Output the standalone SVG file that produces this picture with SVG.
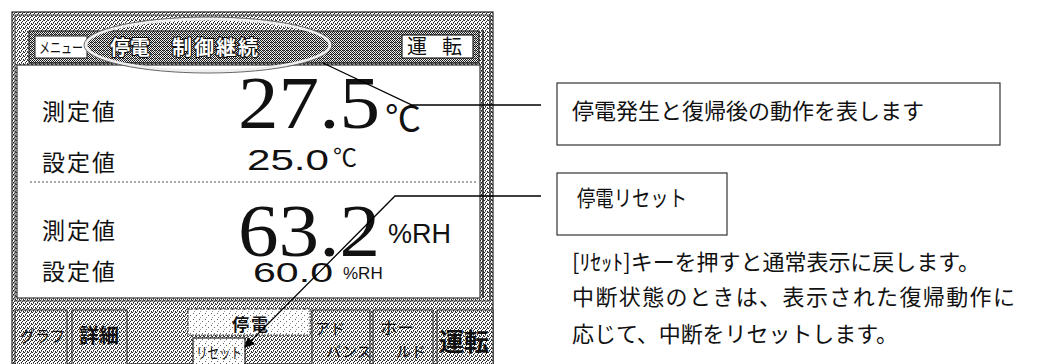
<svg xmlns="http://www.w3.org/2000/svg" width="1038" height="364" viewBox="0 0 1038 364">
<defs>
<pattern id="stL" width="4" height="4" patternUnits="userSpaceOnUse">
<rect width="4" height="4" fill="#fff"/>
<rect x="0" y="0" width="1" height="1" fill="#222"/><rect x="2" y="1" width="1" height="1" fill="#222"/><rect x="1" y="2" width="1" height="1" fill="#222"/><rect x="3" y="3" width="1" height="1" fill="#222"/><rect x="3" y="0" width="1" height="1" fill="#555"/><rect x="1" y="3" width="1" height="1" fill="#777"/>
</pattern>
<pattern id="stD" width="4" height="4" patternUnits="userSpaceOnUse">
<rect width="4" height="4" fill="#eee"/>
<rect x="0" y="0" width="1" height="1" fill="#111"/><rect x="2" y="0" width="1" height="1" fill="#111"/><rect x="1" y="1" width="1" height="1" fill="#111"/><rect x="3" y="1" width="1" height="1" fill="#333"/><rect x="0" y="2" width="1" height="1" fill="#111"/><rect x="2" y="2" width="1" height="1" fill="#111"/><rect x="1" y="3" width="1" height="1" fill="#111"/><rect x="3" y="3" width="1" height="1" fill="#444"/><rect x="3" y="2" width="1" height="1" fill="#666"/>
</pattern>
<pattern id="stW" width="6" height="6" patternUnits="userSpaceOnUse">
<rect width="6" height="6" fill="#fff"/>
<rect x="1" y="1" width="1" height="1" fill="#666"/><rect x="4" y="3" width="1" height="1" fill="#666"/><rect x="2" y="5" width="1" height="1" fill="#999"/>
</pattern>
<marker id="ah" viewBox="0 0 10 10" refX="9" refY="5" markerWidth="14" markerHeight="10" markerUnits="userSpaceOnUse" orient="auto">
<path d="M0,0 L10,5 L0,10 Z" fill="#000"/>
</marker>
<style>
.jp{font-family:"Noto Sans CJK JP","Noto Sans CJK SC",sans-serif;fill:#111}
.big{font-family:"Liberation Serif","DejaVu Serif",serif;font-size:74px;fill:#111}
.num{font-family:"Liberation Sans",Arial,sans-serif;fill:#111}
.btn{fill:url(#stL);stroke:#222;stroke-width:1}
.box{fill:#fff;stroke:#333;stroke-width:1.2}
.con{fill:none;stroke:#000;stroke-width:1.3}
</style>
</defs>
<rect width="1038" height="364" fill="#fff"/>

<g id="panel">
<rect x="12" y="12" width="481" height="352" fill="url(#stL)" stroke="#222" stroke-width="1.2"/>
<rect x="15" y="15" width="475" height="286" fill="none" stroke="#444" stroke-width="1"/>
<rect x="29" y="31" width="450" height="32" fill="url(#stD)" stroke="#222" stroke-width="1.2"/>
<rect x="17" y="65" width="463" height="233" fill="#fff" stroke="#333" stroke-width="1.2"/>
<line x1="483" y1="30" x2="483" y2="298" stroke="#222" stroke-width="1.5"/>
<line x1="490" y1="14" x2="490" y2="300" stroke="#333" stroke-width="1"/>
<line x1="30" y1="182" x2="478" y2="182" stroke="#555" stroke-width="1" stroke-dasharray="2,2"/>
</g>

<g id="header">
<rect x="35" y="36" width="52" height="22" fill="#fff" stroke="#222" stroke-width="1"/>
<text class="jp" x="39" y="53" font-size="15" textLength="44" lengthAdjust="spacingAndGlyphs">メニュー</text>
<text class="jp" x="110" y="55" font-size="20" font-weight="bold" stroke="#111" stroke-width="2.2" paint-order="stroke" style="fill:#fff">停電</text>
<text class="jp" x="172" y="55" font-size="20" font-weight="bold" stroke="#111" stroke-width="2.2" paint-order="stroke" style="fill:#fff" textLength="86">制御継続</text>
<ellipse cx="208" cy="45" rx="122" ry="26" fill="none" stroke="#eee" stroke-width="3"/>
<ellipse cx="208" cy="45" rx="124" ry="28" fill="none" stroke="#666" stroke-width="1"/>
<rect x="402" y="35" width="71" height="23" fill="#fff" stroke="#222" stroke-width="1.2"/>
<text class="jp" x="407" y="54" font-size="20">運</text>
<text class="jp" x="442" y="54" font-size="20">転</text>
</g>

<g id="readings">
<text class="jp" x="42" y="120" font-size="23" letter-spacing="2">測定値</text>
<text class="big" x="238" y="128" textLength="142" lengthAdjust="spacingAndGlyphs">27.5</text>
<text class="jp" x="385" y="132" font-size="36">℃</text>
<text class="jp" x="42" y="171" font-size="23" letter-spacing="2">設定値</text>
<text class="num" x="247" y="170" font-size="30" textLength="82" lengthAdjust="spacingAndGlyphs">25.0</text>
<text class="jp" x="333" y="166" font-size="24">℃</text>
<text class="jp" x="42" y="239" font-size="23" letter-spacing="2">測定値</text>
<text class="big" x="238" y="256" textLength="142" lengthAdjust="spacingAndGlyphs">63.2</text>
<text class="num" x="388" y="243" font-size="27">%RH</text>
<text class="jp" x="42" y="280" font-size="23" letter-spacing="2">設定値</text>
<text class="num" x="253" y="282" font-size="28" textLength="80" lengthAdjust="spacingAndGlyphs">60.0</text>
<text class="num" x="343" y="279" font-size="17">%RH</text>
</g>

<g id="buttons">
<rect class="btn" x="15" y="310" width="52" height="56"/>
<text class="jp" x="20" y="342" font-size="16" textLength="45" lengthAdjust="spacingAndGlyphs">グラフ</text>
<rect class="btn" x="72" y="310" width="55" height="56"/>
<text class="jp" x="79" y="343" font-size="20" font-weight="bold">詳細</text>
<rect x="188" y="309" width="122" height="26" fill="url(#stW)" stroke="#444" stroke-width="1" stroke-dasharray="2,1"/>
<text class="jp" x="232" y="331" font-size="17" font-weight="bold" letter-spacing="2">停電</text>
<rect x="193" y="338" width="52" height="28" fill="url(#stW)" stroke="#222" stroke-width="1.2"/>
<text class="jp" x="196" y="358" font-size="15" textLength="46" lengthAdjust="spacingAndGlyphs">リセット</text>
<rect class="btn" x="312" y="310" width="58" height="56"/>
<text class="jp" x="315" y="334" font-size="15">アド</text>
<text class="jp" x="326" y="357" font-size="15">バンス</text>
<rect class="btn" x="373" y="310" width="60" height="56"/>
<text class="jp" x="380" y="334" font-size="17">ホー</text>
<text class="jp" x="396" y="357" font-size="15">ルド</text>
<rect class="btn" x="437" y="310" width="56" height="56"/>
<text class="jp" x="439" y="351" font-size="25" font-weight="bold">運転</text>
</g>

<g id="connectors">
<polyline class="con" points="323,63 412,105 541,105"/>
<polyline class="con" points="541,196 395,196 245,347" marker-end="url(#ah)"/>
</g>

<g id="note1">
<rect class="box" x="557" y="83" width="443" height="62"/>
<text class="jp" x="572" y="119" font-size="22">停電発生と復帰後の動作を表します</text>
</g>
<g id="note2">
<rect class="box" x="557" y="173" width="170" height="62"/>
<text class="jp" x="577" y="206" font-size="22" textLength="110" lengthAdjust="spacingAndGlyphs">停電リセット</text>
</g>
<g id="desc">
<text class="jp" x="572" y="270" font-size="22" textLength="408">[ﾘｾｯﾄ]キーを押すと通常表示に戻します。</text>
<text class="jp" x="572" y="305" font-size="22" textLength="443">中断状態のときは、表示された復帰動作に</text>
<text class="jp" x="572" y="342" font-size="22" textLength="326">応じて、中断をリセットします。</text>
</g>
</svg>
